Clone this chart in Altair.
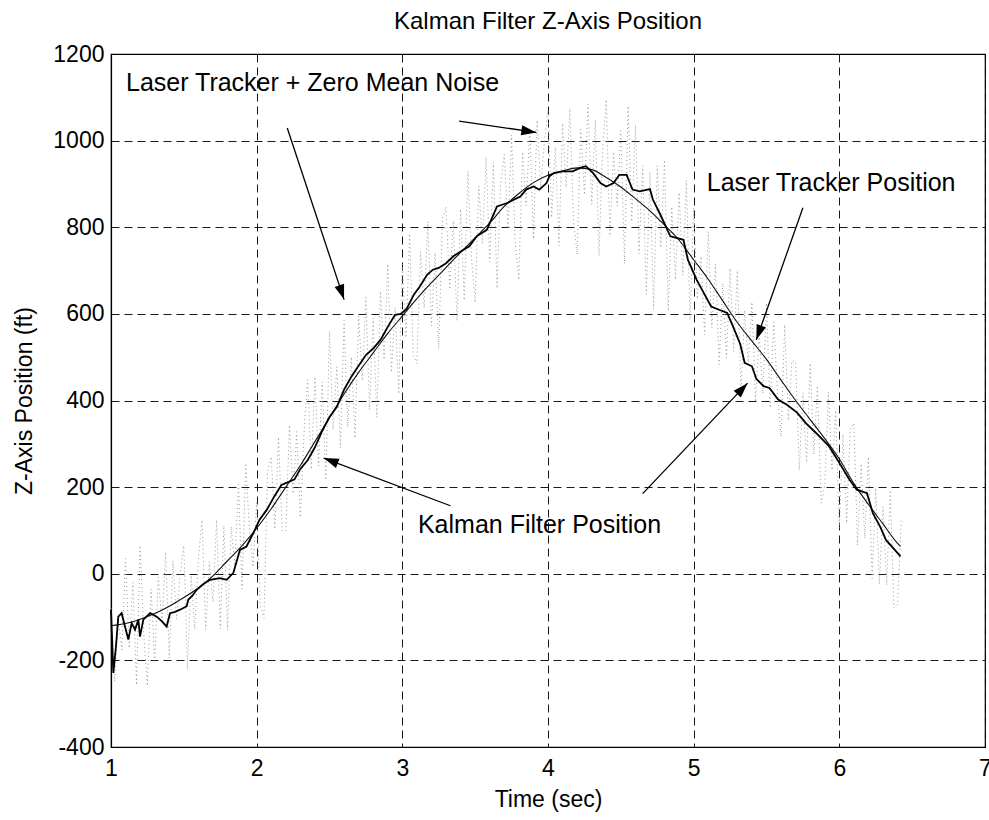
import math
import altair as alt
import pandas as pd

# ---------------- data ----------------
laser_t = [1.0, 1.1, 1.2, 1.3, 1.4, 1.5, 1.6, 1.7, 1.8, 1.9, 2.0, 2.1, 2.2, 2.3, 2.4,
           2.5, 2.6, 2.7, 2.8, 2.9, 3.0, 3.1, 3.2, 3.3, 3.4, 3.5, 3.6, 3.7, 3.8, 3.9,
           4.0, 4.1, 4.2, 4.3, 4.4, 4.5, 4.6, 4.7, 4.8, 4.9, 5.0, 5.1, 5.2, 5.3, 5.4,
           5.5, 5.6, 5.7, 5.8, 5.9, 6.0, 6.1, 6.2, 6.3, 6.4, 6.42]
laser_v = [-120, -115, -105, -92, -75, -55, -33, -5, 30, 65, 105, 150, 200, 250, 305,
           360, 415, 465, 510, 555, 595, 635, 672, 707, 742, 776, 810, 848, 878, 903,
           920, 930, 937, 933, 915, 893, 866, 838, 805, 770, 725, 680, 630, 580, 537,
           495, 447, 400, 356, 312, 265, 208, 160, 115, 70, 63]

kalman_t = [1.000, 1.016, 1.034, 1.050, 1.073, 1.096, 1.119, 1.142, 1.165, 1.188, 1.199,
            1.222, 1.268, 1.314, 1.350, 1.382, 1.405, 1.440, 1.474, 1.520, 1.530, 1.560,
            1.588, 1.630, 1.680, 1.748, 1.794, 1.840, 1.885, 1.930, 1.977, 2.020, 2.070,
            2.120, 2.170, 2.220, 2.260, 2.300, 2.350, 2.400, 2.450, 2.500, 2.550, 2.600,
            2.650, 2.700, 2.750, 2.800, 2.850, 2.900, 2.950, 2.990, 3.030, 3.080, 3.120,
            3.170, 3.210, 3.250, 3.300, 3.350, 3.420, 3.460, 3.510, 3.580, 3.650, 3.720,
            3.810, 3.850, 3.900, 3.940, 3.990, 4.010, 4.040, 4.100, 4.170, 4.220, 4.260,
            4.310, 4.360, 4.400, 4.450, 4.490, 4.540, 4.580, 4.630, 4.700, 4.720, 4.770,
            4.840, 4.930, 4.960, 5.020, 5.070, 5.120, 5.170, 5.230, 5.270, 5.320, 5.350,
            5.400, 5.430, 5.480, 5.520, 5.580, 5.640, 5.710, 5.770, 5.840, 5.930, 6.000,
            6.070, 6.120, 6.190, 6.230, 6.280, 6.320, 6.370, 6.420]
kalman_v = [-83, -229, -168, -99, -91, -122, -152, -114, -129, -106, -145,
            -106, -91, -99, -110, -122, -91, -88, -83, -75, -60, -50,
            -37, -25, -14, -10, -14, 2, 55, 63, 94, 125, 148,
            178, 205, 212, 218, 242, 262, 292, 330, 362, 385, 425,
            455, 480, 505, 520, 540, 570, 598, 600, 612, 645, 663,
            690, 702, 706, 717, 733, 748, 756, 779, 794, 848, 856,
            871, 887, 894, 887, 902, 918, 925, 929, 929, 937, 941,
            925, 902, 894, 902, 921, 921, 887, 883, 888, 864, 830,
            779, 771, 725, 679, 648, 617, 610, 602, 571, 530, 487,
            479, 450, 433, 429, 402, 390, 372, 348, 325, 294, 256,
            217, 194, 186, 140, 109, 78, 59, 40]

noise_v = [-80, -249, -107, -176, 35, -172, -20, -257, 65, -142, -259, -35,
           -202, -8, -114, 50, -195, 30, -105, 0, 65, -220, -4, -129,
           37, 124, -129, 28, -65, 124, -127, 111, -130, 109, 18, 206,
           -35, 255, 105, 15, 165, -74, -103, 238, 270, 103, 315, 98,
           100, 343, 185, 328, 130, 324, 448, 241, 455, 249, 443, 216,
           560, 334, 478, 291, 585, 338, 500, 313, 595, 446, 638, 379,
           590, 361, 652, 494, 715, 465, 615, 415, 715, 545, 785, 505,
           485, 744, 614, 813, 572, 741, 520, 818, 847, 656, 815, 584,
           842, 631, 929, 728, 626, 895, 763, 962, 720, 950, 659, 899,
           968, 796, 1013, 761, 678, 974, 850, 1027, 773, 1047, 891, 996,
           1070, 822, 985, 757, 1040, 892, 1073, 815, 737, 1026, 875, 1084,
           853, 1048, 734, 980, 1095, 780, 974, 849, 1023, 716, 1080, 813,
           1036, 739, 942, 645, 928, 610, 942, 753, 955, 606, 847, 679,
           880, 689, 908, 586, 845, 634, 733, 552, 790, 568, 715, 483,
           670, 498, 705, 513, 700, 419, 608, 488, 627, 397, 556, 416,
           625, 383, 581, 419, 317, 575, 354, 492, 490, 239, 418, 257,
           486, 275, 434, 163, 202, 420, 239, 377, 105, 321, 117, 332,
           348, 66, 254, 82, 270, -11, 198, -24, 155, -26, 193, -79,
           -70, 122]
noise_t = [round(1.0 + 0.025 * i, 3) for i in range(len(noise_v))]

# annotations (data coordinates)
label_text = ["Laser Tracker + Zero Mean Noise", "Laser Tracker Position", "Kalman Filter Position"]
label_t = [1.103, 5.09, 3.107]
label_v = [1134, 903, 112]

arrow_t1 = [2.21, 3.39, 5.75, 3.33, 4.65]
arrow_v1 = [1029, 1045, 845, 157, 185]
arrow_t2 = [2.60, 3.92, 5.43, 2.46, 5.37]
arrow_v2 = [633, 1019, 540, 267, 440]

x_ticks = [1, 2, 3, 4, 5, 6, 7]
y_ticks = [-400, -200, 0, 200, 400, 600, 800, 1000, 1200]

# ---------------- chart ----------------
W, H = 874, 693
FONT = "Liberation Sans"
xs = alt.Scale(domain=[1, 7], nice=False, zero=False)
ys = alt.Scale(domain=[-400, 1200], nice=False, zero=False)

px_t = W / 6.0
px_v = H / 1600.0
angles = []
for a, b, c, d in zip(arrow_t1, arrow_v1, arrow_t2, arrow_v2):
    dx = (c - a) * px_t
    dy = -(d - b) * px_v
    angles.append(math.degrees(math.atan2(dx, -dy)) % 360)

df_laser = pd.DataFrame({"t": laser_t, "v": laser_v})
df_kal = pd.DataFrame({"t": kalman_t, "v": kalman_v})
df_noise = pd.DataFrame({"t": noise_t, "v": noise_v})
df_lab = pd.DataFrame({"t": label_t, "v": label_v, "txt": label_text})
df_arr = pd.DataFrame({"t1": arrow_t1, "v1": arrow_v1, "t2": arrow_t2, "v2": arrow_v2, "ang": angles})

xaxis = alt.Axis(values=x_ticks, title="Time (sec)", grid=True, ticks=False,
                 labelExpr="'' + datum.value",
                 labelOverlap=False, labelFlush=False, labelPadding=10, titlePadding=8)
yaxis = alt.Axis(values=y_ticks, title="Z-Axis Position (ft)", grid=True, ticks=False,
                 labelExpr="'' + datum.value",
                 labelOverlap=False, labelFlush=False, labelPadding=7, titlePadding=16)

noise = alt.Chart(df_noise).mark_line(color="#999999", strokeWidth=1, strokeDash=[1, 3]).encode(
    x=alt.X("t:Q", scale=xs, axis=xaxis),
    y=alt.Y("v:Q", scale=ys, axis=yaxis),
    order="t:Q",
)
laser = alt.Chart(df_laser).mark_line(color="#111111", strokeWidth=1.1, interpolate="monotone").encode(
    x=alt.X("t:Q", scale=xs), y=alt.Y("v:Q", scale=ys), order="t:Q"
)
kalman = alt.Chart(df_kal).mark_line(color="#000000", strokeWidth=1.8).encode(
    x=alt.X("t:Q", scale=xs), y=alt.Y("v:Q", scale=ys), order="t:Q"
)
arrow_lines = alt.Chart(df_arr).mark_rule(color="black", strokeWidth=1.3).encode(
    x=alt.X("t1:Q", scale=xs), y=alt.Y("v1:Q", scale=ys),
    x2="t2:Q", y2="v2:Q",
)
arrow_heads = alt.Chart(df_arr).mark_point(
    shape="M0,0L-0.33,1L0.33,1Z", filled=True, color="black", opacity=1, size=900, strokeWidth=0
).encode(
    x=alt.X("t2:Q", scale=xs), y=alt.Y("v2:Q", scale=ys),
    angle=alt.Angle("ang:Q", scale=None),
)
labels = alt.Chart(df_lab).mark_text(align="left", baseline="middle", fontSize=25, font=FONT,
                                     color="black").encode(
    x=alt.X("t:Q", scale=xs), y=alt.Y("v:Q", scale=ys), text="txt:N"
)

chart = alt.layer(noise, laser, kalman, arrow_lines, arrow_heads, labels).properties(
    width=W, height=H,
    title=alt.TitleParams("Kalman Filter Z-Axis Position", fontSize=24, font=FONT,
                          fontWeight="normal", color="black", anchor="middle", offset=9),
    autosize=alt.AutoSizeParams(type="none"),
    padding={"left": 111, "top": 54, "right": 4, "bottom": 73},
    background="white",
).configure_view(stroke="black", strokeWidth=1.2).configure_axis(
    labelFont=FONT, labelFontSize=23, labelColor="black",
    titleFont=FONT, titleFontSize=23, titleFontWeight="normal", titleColor="black",
    gridColor="black", gridDash=[8, 5], gridWidth=1, gridOpacity=0.9,
    domainColor="black", domainWidth=1.2,
)

chart.save("out.html", embed_options={"renderer": "svg", "actions": False})
